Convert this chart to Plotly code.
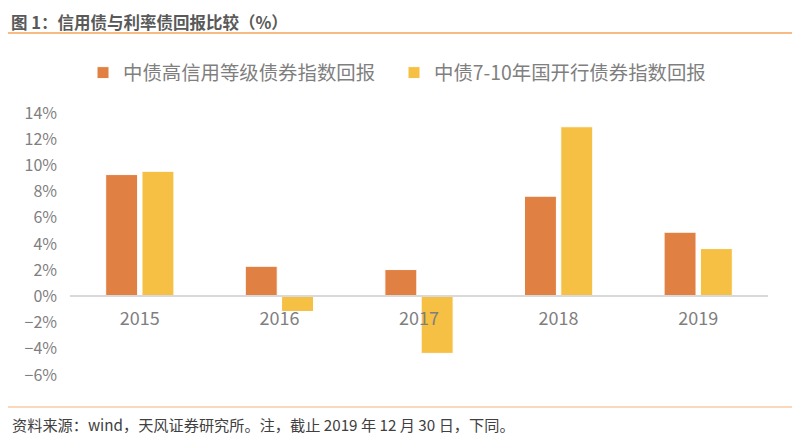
import plotly.graph_objects as go

years = ["2015", "2016", "2017", "2018", "2019"]
credit_returns = [9.3, 2.3, 2.05, 7.65, 4.9]
cdb_returns = [9.55, -1.15, -4.35, 12.95, 3.65]
series_names = ["中债高信用等级债券指数回报", "中债7-10年国开行债券指数回报"]

title_text = "图 1：信用债与利率债回报比较（%）"
source_text = "资料来源：wind，天风证券研究所。注，截止 2019 年 12 月 30 日，下同。"

FONT = "Noto Sans CJK SC"
GREY = "#7f7f7f"

# page is drawn with the browser's 8px body margin, so work in screen px
OFF = 8
L, T, PW, PH = 70 - OFF, 113 - OFF, 698, 262


def px_x(sx):
    return (sx - OFF - L) / PW


def px_y(sy):
    return 1 - (sy - OFF - T) / PH


fig = go.Figure()
fig.add_trace(go.Bar(x=years, y=credit_returns, name=series_names[0],
                     marker=dict(color="#E08043", line=dict(color="#ffffff", width=1))))
fig.add_trace(go.Bar(x=years, y=cdb_returns, name=series_names[1],
                     marker=dict(color="#F5C043", line=dict(color="#ffffff", width=1))))

# x axis sits on the zero line, like the excel original
y_min, y_max = -6, 14
zero_pos = (0 - y_min) / (y_max - y_min)

fig.update_layout(
    width=800, height=447,
    margin=dict(l=L, r=800 - L - PW, t=T, b=447 - T - PH, autoexpand=False),
    paper_bgcolor="white", plot_bgcolor="white",
    font=dict(family=FONT, color=GREY),
    barmode="group", bargap=0.48, bargroupgap=0.12,
    showlegend=True,
    legend=dict(orientation="h", x=px_x(83), xanchor="left", y=px_y(73),
                yanchor="middle", font=dict(size=19.4, color=GREY),
                bgcolor="rgba(0,0,0,0)", traceorder="normal", itemwidth=30,
                entrywidth=266),
    xaxis=dict(anchor="free", position=zero_pos, showline=True, linecolor="#d9d9d9",
               linewidth=2, ticks="", showgrid=False, tickfont=dict(size=18, color=GREY),
               ticklabelstandoff=6),
    yaxis=dict(range=[y_min, y_max], dtick=2, ticksuffix="%", showgrid=False,
               zeroline=False, showline=False, tickfont=dict(size=16, color=GREY),
               ticklabelstandoff=12),
)

# header / footer decorations
fig.add_annotation(text="<b>" + title_text + "</b>", xref="paper", yref="paper",
                   x=px_x(10), y=px_y(OFF + 1), xanchor="left", yanchor="top",
                   borderpad=0, showarrow=False,
                   font=dict(size=16.5, color="#595959", family=FONT))
fig.add_shape(type="line", xref="paper", yref="paper", x0=px_x(0), x1=px_x(800),
              y0=px_y(33), y1=px_y(33), line=dict(color="#F4A45A", width=1.5))
fig.add_shape(type="line", xref="paper", yref="paper", x0=px_x(0), x1=px_x(800),
              y0=px_y(407), y1=px_y(407), line=dict(color="#F8CBA8", width=1.5))
fig.add_annotation(text=source_text, xref="paper", yref="paper",
                   x=px_x(10), y=px_y(424), xanchor="left", yanchor="middle",
                   showarrow=False, font=dict(size=15.2, color="#404040", family=FONT))

fig.write_html("out.html")
